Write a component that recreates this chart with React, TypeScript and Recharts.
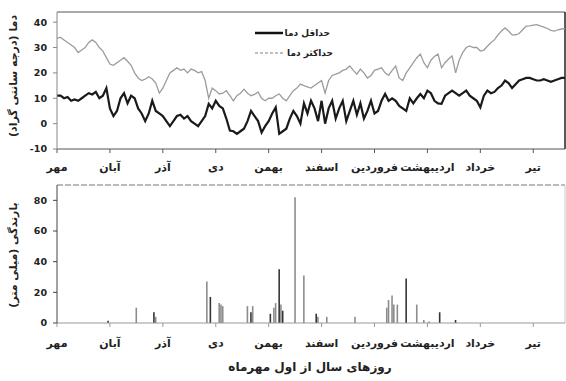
import React from 'react';
import { LineChart, Line, BarChart, Bar, Cell, XAxis, YAxis, ReferenceLine, Legend, Label } from 'recharts';

const FONT = '"DejaVu Sans", sans-serif';

const monthLabels = ['مهر', 'آبان', 'آذر', 'دی', 'بهمن', 'اسفند', 'فروردین', 'اردیبهشت', 'خرداد', 'تیر'];
const monthStarts = [0, 30, 60, 90, 120, 150, 180, 210, 240, 270];
const tempTicks = [-10, 0, 10, 20, 30, 40];
const rainTicks = [0, 20, 40, 60, 80];

const tempTitle = 'دما (درجه سانتی گراد)';
const rainTitle = 'بارندگی (میلی متر)';
const xTitle = 'روزهای سال از اول مهرماه';
const minName = 'حداقل دما';
const maxName = 'حداکثر دما';

// daily readings every 2 days, starting 1 Mehr
const tmin = [
  11, 11, 10, 10.5, 9, 9.5, 9, 10, 11, 12, 11.5, 12.5, 10, 11, 14, 6, 3, 5, 10, 12,
  8, 11, 10, 6, 4, 1, 4, 9, 5, 4, 3, 1, -1, 1, 3, 3.5, 2, 3, 1, 0,
  -1, 1, 3, 7.8, 6, 9, 7, 6, 2, -2.7, -3, -4, -3, -2, 1, 5, 3, 1, -3.5, -1,
  1, 4, 6.4, -4, -3, -2, 2, 5, 3, 0, 8, 4, 9, 6, 1, 9, 0, 6, 9, 2,
  6, 9, 1, 5, 9, 3.5, 8, 2, 5, 9, 4, 5, 9, 11.7, 9, 10, 9, 7, 6, 5,
  10, 8, 10, 11.7, 10, 13, 12, 9, 8, 7.8, 11, 12, 13, 12, 11, 12, 13, 11, 10, 9,
  6.4, 11, 13, 12, 12.5, 14, 15, 17, 16, 14, 15.5, 17, 17.5, 18, 18, 17.5, 17, 17, 17.5, 17,
  16.5, 17, 17.5, 18, 18,
];
const tmax = [
  33.7, 34, 33, 32, 31, 30, 28, 29, 30, 32, 33, 32, 30, 28.6, 26, 23.5, 23, 24, 25, 26,
  24.6, 23, 20, 18, 17, 17.5, 18.5, 17.6, 16, 12, 14, 17, 20, 21, 22, 21, 21.5, 20, 21.5, 21,
  20, 20.5, 17, 10, 14, 13, 11.7, 12, 13, 11, 9, 11, 12, 13.6, 12, 11, 11.5, 12.5, 10, 9,
  10, 10, 11, 11.7, 10, 9, 11, 13, 14, 15.6, 15, 14.5, 14, 15, 16, 17, 12, 17, 19, 19.5,
  20, 21, 21.5, 22.7, 21, 19.5, 21.5, 20, 18, 19, 21, 21.5, 22, 20, 19, 21, 22.7, 18, 17, 20,
  22, 24, 26, 27.4, 24, 22, 25, 26.5, 27.4, 22, 24, 25.5, 26.7, 20, 25, 28, 30, 30.6, 30, 30,
  28.6, 29, 30.5, 32, 33, 35, 36.5, 37.7, 36.5, 35, 35, 35.5, 37, 38.4, 38.5, 38.8, 39, 38.5, 38, 37.5,
  36.8, 36.5, 37, 37.3, 37.5,
];

// [day, mm]
const darkRain: [number, number][] = [
  [29, 1.5], [55, 7], [87, 17], [110, 7], [121, 6], [126, 35], [128, 8], [147, 6], [198, 29], [217, 7], [226, 2],
];
const lightRain: [number, number][] = [
  [45, 10], [56, 4], [85, 27], [92, 13], [93, 12], [94, 11], [108, 11], [111, 11], [123, 10], [124, 13],
  [127, 12], [135, 82], [140, 31], [148, 4], [153, 4], [169, 4], [187, 10], [188, 15], [190, 18], [191, 12],
  [193, 12], [204, 12], [208, 2], [211, 1],
];

const tempData = tmin.map((v, i) => ({ day: i * 2, tmin: v, tmax: tmax[i] }));
const rainData = [
  ...darkRain.map(([day, mm]) => ({ day, mm, tone: 'dark' })),
  ...lightRain.map(([day, mm]) => ({ day, mm, tone: 'light' })),
].sort((a, b) => a.day - b.day);

const monthFmt = (v: number) => monthLabels[monthStarts.indexOf(v)] ?? '';
const tickStyle = { fontFamily: FONT, fontSize: 9.5, fontWeight: 700, fill: '#222' };

const MonthTick = (props: any) => {
  const { x, y, payload } = props;
  return (
    <text x={x} y={y} dy={9} textAnchor="middle" fontFamily={FONT} fontSize={11} fontWeight={700} fill="#222">
      {monthFmt(payload.value)}
    </text>
  );
};

const axisTitle = (text: string, cy: number) => () => (
  <text
    x={13}
    y={cy}
    transform={`rotate(-90 13 ${cy})`}
    textAnchor="middle"
    dominantBaseline="central"
    style={{ direction: 'rtl', unicodeBidi: 'embed' } as any}
    fontFamily={FONT}
    fontSize={11}
    fontWeight={700}
    fill="#222"
  >
    {text}
  </text>
);

const renderLegend = () => (
  <svg width={120} height={40}>
    <line x1={5} y1={9} x2={33} y2={9} stroke="#111" strokeWidth={2.5} />
    <text x={80} y={9} textAnchor="end" dominantBaseline="central" fontFamily={FONT} fontSize={9} fontWeight={700} fill="#222">{minName}</text>
    <line x1={5} y1={29} x2={33} y2={29} stroke="#aaa" strokeWidth={1.5} strokeDasharray="3 2" />
    <text x={83} y={29} textAnchor="end" dominantBaseline="central" fontFamily={FONT} fontSize={9} fontWeight={700} fill="#222">{maxName}</text>
  </svg>
);

export default function App() {
  return (
    <div style={{ position: 'absolute', left: 0, top: 0, width: 566, height: 381, background: '#fff' }}>
      <div style={{ position: 'absolute', left: 0, top: 0 }}>
        <LineChart width={566} height={179} data={tempData} margin={{ top: 12, right: 1, left: 0, bottom: 0 }}>
          <XAxis
            dataKey="day"
            type="number"
            domain={[0, 288]}
            ticks={monthStarts}
            interval={0}
            height={30}
            tickSize={4}
            tickMargin={9}
            stroke="#555"
            tick={<MonthTick />}
            allowDataOverflow
          />
          <YAxis
            type="number"
            domain={[-10, 44]}
            ticks={tempTicks}
            width={57}
            tickSize={4}
            tickMargin={6}
            stroke="#888"
            tick={tickStyle}
            interval={0}
            allowDataOverflow
          >
            <Label content={axisTitle(tempTitle, 76)} />
          </YAxis>
          <ReferenceLine y={44} stroke="#aaa" strokeWidth={2} />
          <ReferenceLine x={288} stroke="#222" strokeWidth={1.5} />
          <Line type="linear" dataKey="tmax" name={maxName} stroke="#9c9c9c" strokeWidth={1.3} dot={false} isAnimationActive={false} />
          <Line type="linear" dataKey="tmin" name={minName} stroke="#1a1a1a" strokeWidth={2.2} dot={false} isAnimationActive={false} />
          <Legend
            layout="vertical"
            align="center"
            verticalAlign="middle"
            content={renderLegend}
            wrapperStyle={{ left: 250, top: 24, width: 120, height: 40 }}
          />
        </LineChart>
      </div>
      <div style={{ position: 'absolute', left: 0, top: 175 }}>
        <BarChart width={566} height={206} data={rainData} margin={{ top: 10, right: 1, left: 0, bottom: 28 }} barSize={2}>
          <XAxis
            dataKey="day"
            type="number"
            domain={[0, 288]}
            ticks={monthStarts}
            interval={0}
            height={30}
            tickSize={4}
            tickMargin={11}
            stroke="#999"
            tick={<MonthTick />}
            allowDataOverflow
          />
          <YAxis
            type="number"
            domain={[0, 90]}
            ticks={rainTicks}
            width={57}
            tickSize={4}
            tickMargin={6}
            stroke="#444"
            tick={tickStyle}
            interval={0}
            allowDataOverflow
          >
            <Label content={axisTitle(rainTitle, 80)} />
          </YAxis>
          <ReferenceLine y={90} stroke="#bbb" strokeWidth={2} strokeDasharray="6 2" />
          <ReferenceLine x={288} stroke="#ccc" strokeWidth={1} />
          <Bar dataKey="mm" isAnimationActive={false}>
            {rainData.map((d, i) => (
              <Cell key={i} fill={d.tone === 'dark' ? '#333' : '#8c8c8c'} />
            ))}
          </Bar>
        </BarChart>
      </div>
      <div
        style={{
          position: 'absolute',
          left: 210,
          top: 360,
          width: 200,
          textAlign: 'center',
          fontFamily: FONT,
          fontSize: 12,
          fontWeight: 700,
          color: '#222',
          direction: 'rtl',
        }}
      >
        {xTitle}
      </div>
    </div>
  );
}
